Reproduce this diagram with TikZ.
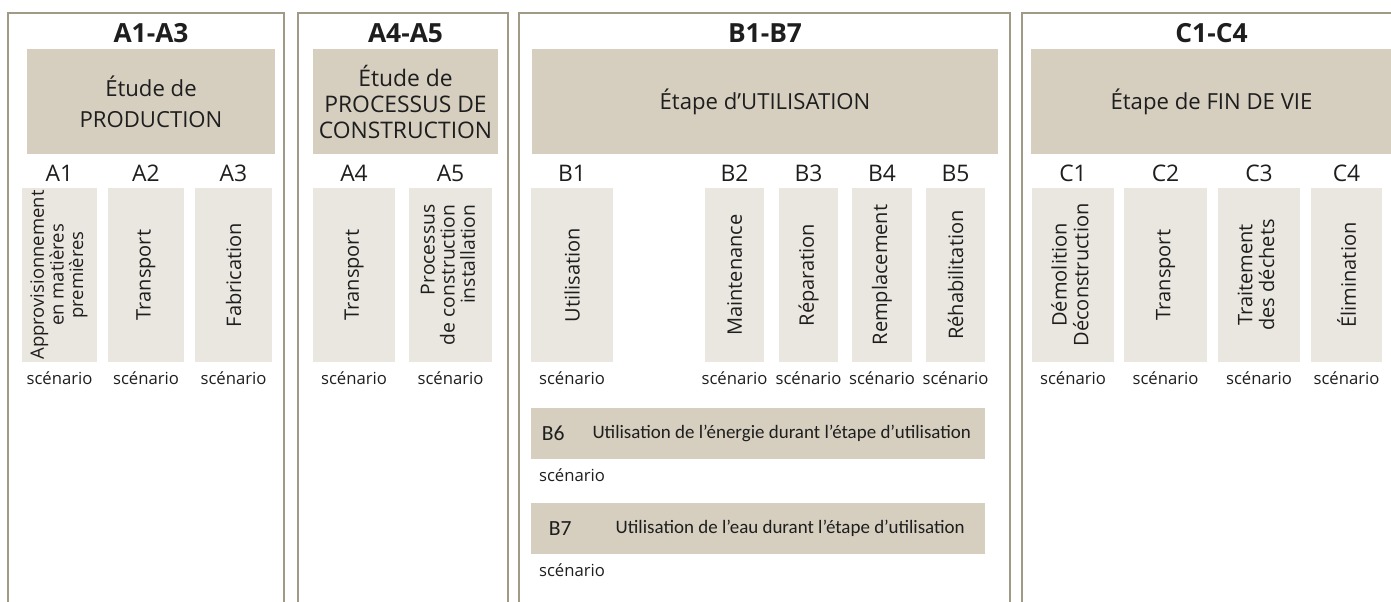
\documentclass[tikz,border=0pt]{standalone}
\usepackage{fontspec}
\setmainfont{Open Sans}
\newfontfamily\calibfont{Carlito}
\usepackage{graphicx}
\usetikzlibrary{positioning}
\definecolor{cadrecol}{HTML}{A09A87}
\definecolor{etapefill}{HTML}{D6CFC0}
\definecolor{modfill}{HTML}{EAE7E0}
\definecolor{texte}{HTML}{1E1E1E}
\tikzstyle{panel} = [draw=cadrecol, line width=1.2pt]
\tikzstyle{titre} = [inner sep=0, text=texte, font=\bfseries\fontsize{15}{17}\selectfont]
\tikzstyle{etape} = [rectangle, fill=etapefill, inner sep=0, minimum height=2.1cm, text=texte, align=center, font=\fontsize{12.6}{17.5}\selectfont]
\tikzstyle{module} = [rectangle, fill=modfill, inner sep=0, minimum height=3.48cm, text=texte, font=\fontsize{11.4}{12}\selectfont]
\tikzstyle{code} = [inner sep=0, text=texte, font=\fontsize{13}{15}\selectfont]
\tikzstyle{scen} = [inner sep=0, text=texte, font=\fontsize{9.5}{11}\selectfont]
\tikzstyle{usebar} = [rectangle, fill=etapefill, inner sep=0, minimum width=9.08cm, minimum height=1.02cm]
\tikzstyle{bartext} = [inner sep=0, text=texte, font=\calibfont\fontsize{10.8}{13}\selectfont]
\begin{document}
\begin{tikzpicture}[x=0.02cm, y=-0.02cm]
\useasboundingbox (0,0) rectangle (1391,601);

% panels
\draw [panel] (8,615) |- (284,13) -- (284,615);
\draw [panel] (298,615) |- (508,13) -- (508,615);
\draw [panel] (519,615) |- (1010,13) -- (1010,615);
\draw [panel] (1022,615) |- (1405,13);

\node (tA13) [titre] at (151,33.5) {A1-A3};
\node (tA45) [titre] at (405.5,33.5) {A4-A5};
\node (tB17) [titre] at (765,33.5) {B1-B7};
\node (tC14) [titre] at (1211.5,33.5) {C1-C4};

\node (prod) [etape, minimum width=4.96cm] at (151,101.5) {Étude de\\PRODUCTION};
\node (constr) [etape, minimum width=3.7cm, font=\fontsize{13}{14.8}\selectfont] at (405.5,101.5) {Étude de\\PROCESSUS DE\\CONSTRUCTION};
\node (util) [etape, minimum width=9.32cm] at (765,101.5) {Étape d’UTILISATION};
\node (fin) [etape, minimum width=7.22cm] at (1211.5,101.5) {Étape de FIN DE VIE};

% A1-A3
\node (a1) [module, minimum width=1.5cm, font=\fontsize{10.5}{10.4}\selectfont] at (59.5,275) {\rotatebox{90}{\begin{tabular}{@{}c@{}}Approvisionnement\\en matières\\premières\end{tabular}}};
\node (a2) [module, minimum width=1.52cm] at (146,275) {\rotatebox{90}{Transport}};
\node (a3) [module, minimum width=1.54cm] at (233.5,275) {\rotatebox{90}{Fabrication}};

% A4-A5
\node (a4) [module, minimum width=1.64cm] at (354,275) {\rotatebox{90}{Transport}};
\node (a5) [module, minimum width=1.66cm, font=\fontsize{11}{10.2}\selectfont] at (450.5,275) {\rotatebox{90}{\begin{tabular}{@{}r@{}}Processus\\de construction\\installation\end{tabular}}};

% B1-B5
\node (b1) [module, minimum width=1.64cm] at (572,275) {\rotatebox{90}{Utilisation}};
\node (b2) [module, minimum width=1.18cm] at (734.5,275) {\rotatebox{90}{Maintenance}};
\node (b3) [module, minimum width=1.18cm] at (808.5,275) {\rotatebox{90}{Réparation}};
\node (b4) [module, minimum width=1.2cm] at (882,275) {\rotatebox{90}{Remplacement}};
\node (b5) [module, minimum width=1.18cm] at (955.5,275) {\rotatebox{90}{Réhabilitation}};

% C1-C4
\node (c1) [module, minimum width=1.64cm] at (1073,275) {\rotatebox{90}{\begin{tabular}{@{}c@{}}Démolition\\Déconstruction\end{tabular}}};
\node (c2) [module, minimum width=1.66cm] at (1165.5,275) {\rotatebox{90}{Transport}};
\node (c3) [module, minimum width=1.64cm] at (1259,275) {\rotatebox{90}{\begin{tabular}{@{}c@{}}Traitement\\des déchets\end{tabular}}};
\node (c4) [module, minimum width=1.42cm] at (1346.5,275) {\rotatebox{90}{Élimination}};

% codes above the modules
\node (la1) [code, above=3.4pt of a1] {A1};
\node (la2) [code, above=3.4pt of a2] {A2};
\node (la3) [code, above=3.4pt of a3] {A3};
\node (la4) [code, above=3.4pt of a4] {A4};
\node (la5) [code, above=3.4pt of a5] {A5};
\node (lb1) [code, above=3.4pt of b1] {B1};
\node (lb2) [code, above=3.4pt of b2] {B2};
\node (lb3) [code, above=3.4pt of b3] {B3};
\node (lb4) [code, above=3.4pt of b4] {B4};
\node (lb5) [code, above=3.4pt of b5] {B5};
\node (lc1) [code, above=3.4pt of c1] {C1};
\node (lc2) [code, above=3.4pt of c2] {C2};
\node (lc3) [code, above=3.4pt of c3] {C3};
\node (lc4) [code, above=3.4pt of c4] {C4};

% scenarios
\node (sa1) [scen, below=5pt of a1] {scénario};
\node (sa2) [scen, below=5pt of a2] {scénario};
\node (sa3) [scen, below=5pt of a3] {scénario};
\node (sa4) [scen, below=5pt of a4] {scénario};
\node (sa5) [scen, below=5pt of a5] {scénario};
\node (sb1) [scen, below=5pt of b1] {scénario};
\node (sb2) [scen, below=5pt of b2] {scénario};
\node (sb3) [scen, below=5pt of b3] {scénario};
\node (sb4) [scen, below=5pt of b4] {scénario};
\node (sb5) [scen, below=5pt of b5] {scénario};
\node (sc1) [scen, below=5pt of c1] {scénario};
\node (sc2) [scen, below=5pt of c2] {scénario};
\node (sc3) [scen, below=5pt of c3] {scénario};
\node (sc4) [scen, below=5pt of c4] {scénario};

% B6 and B7
\node (b6) [usebar] at (758,433.5) {};
\node (b6code) [bartext, right=6.2pt of b6.west, font=\calibfont\fontsize{12.3}{14}\selectfont] {B6};
\node (b6text) [bartext, right=35pt of b6.west] {Utilisation de l’énergie durant l’étape d’utilisation};
\coordinate (sb6pos) at (b6.south -| b1.south);
\node (sb6) [scen, below=5pt of sb6pos] {scénario};

\node (b7) [usebar] at (758,528.5) {};
\node (b7code) [bartext, right=10.2pt of b7.west, font=\calibfont\fontsize{12.3}{14}\selectfont] {B7};
\node (b7text) [bartext, right=48.2pt of b7.west] {Utilisation de l’eau durant l’étape d’utilisation};
\coordinate (sb7pos) at (b7.south -| b1.south);
\node (sb7) [scen, below=5pt of sb7pos] {scénario};

\end{tikzpicture}
\end{document}
